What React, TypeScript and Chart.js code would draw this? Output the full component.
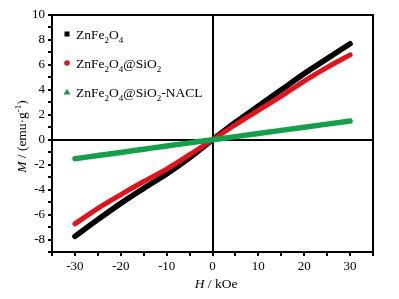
import React, { useEffect, useRef } from 'react';
import { Chart, registerables } from 'chart.js';

Chart.register(...registerables);

const fieldKOe = [-30, -25, -20, -15, -10, -5, 0, 5, 10, 15, 20, 25, 30];
const mZnFe2O4 = [-7.75, -6.4, -5.1, -3.9, -2.75, -1.45, 0, 1.4, 2.7, 4.0, 5.3, 6.5, 7.7];
const mZnFe2O4SiO2 = [-6.75, -5.5, -4.4, -3.35, -2.35, -1.2, 0, 1.2, 2.35, 3.5, 4.7, 5.8, 6.8];
const mZnFe2O4SiO2NACL = [-1.52, -1.27, -1.02, -0.76, -0.5, -0.25, 0, 0.25, 0.5, 0.75, 1.0, 1.25, 1.5];

const seriesNames = ['ZnFe_2O_4', 'ZnFe_2O_4@SiO_2', 'ZnFe_2O_4@SiO_2-NACL'];
const seriesColors = ['#000000', '#e3121d', '#14a04a'];
const seriesMarkers = ['rect', 'circle', 'triangle'];

const xLabelValues = [-30, -20, -10, 0, 10, 20, 30];
const yLabelValues = [-8, -6, -4, -2, 0, 2, 4, 6, 8, 10];

const FONT = '"Liberation Serif", "Times New Roman", serif';

type Seg = { t: string; sub?: boolean; sup?: boolean; italic?: boolean };

function parseSubs(s: string): Seg[] {
  const out: Seg[] = [];
  let buf = '';
  for (let i = 0; i < s.length; i++) {
    if (s[i] === '_' && i + 1 < s.length) {
      if (buf) out.push({ t: buf });
      buf = '';
      out.push({ t: s[i + 1], sub: true });
      i++;
    } else buf += s[i];
  }
  if (buf) out.push({ t: buf });
  return out;
}

function drawSegs(ctx: CanvasRenderingContext2D, segs: Seg[], x: number, y: number, size: number, align: 'left' | 'center') {
  const fontFor = (s: Seg) => `${s.italic ? 'italic ' : ''}${s.sub || s.sup ? Math.round(size * 0.68) : size}px ${FONT}`;
  let total = 0;
  for (const s of segs) {
    ctx.font = fontFor(s);
    total += ctx.measureText(s.t).width;
  }
  let cx = align === 'center' ? x - total / 2 : x;
  ctx.textAlign = 'left';
  ctx.textBaseline = 'alphabetic';
  for (const s of segs) {
    ctx.font = fontFor(s);
    const dy = s.sub ? size * 0.3 : s.sup ? -size * 0.4 : 0;
    ctx.fillText(s.t, cx, y + dy);
    cx += ctx.measureText(s.t).width;
  }
}

const decorPlugin = {
  id: 'decor',
  afterDraw(chart: any) {
    const ctx: CanvasRenderingContext2D = chart.ctx;
    const a = chart.chartArea;
    ctx.save();
    // frame
    ctx.strokeStyle = '#000';
    ctx.lineWidth = 2;
    ctx.strokeRect(a.left, a.top, a.right - a.left, a.bottom - a.top);

    // legend
    ctx.fillStyle = '#000';
    const lx = 67;
    const ly0 = 34;
    const gap = 29;
    seriesNames.forEach((name, i) => {
      const y = ly0 + i * gap;
      ctx.fillStyle = seriesColors[i];
      const m = seriesMarkers[i];
      if (m === 'rect') {
        ctx.fillRect(lx - 2.5, y - 2.5, 5, 5);
      } else if (m === 'circle') {
        ctx.beginPath();
        ctx.arc(lx, y, 2.8, 0, Math.PI * 2);
        ctx.fill();
      } else {
        ctx.beginPath();
        ctx.moveTo(lx, y - 3.2);
        ctx.lineTo(lx + 3.5, y + 2.6);
        ctx.lineTo(lx - 3.5, y + 2.6);
        ctx.closePath();
        ctx.fill();
      }
      ctx.fillStyle = '#000';
      drawSegs(ctx, parseSubs(name), 76, y + 4.5, 13.5, 'left');
    });

    // x title
    drawSegs(ctx, [{ t: 'H', italic: true }, { t: ' / kOe' }], 216, 288, 13.5, 'center');

    // y title
    ctx.save();
    ctx.translate(26, (a.top + a.bottom) / 2 + 3);
    ctx.rotate(-Math.PI / 2);
    drawSegs(ctx, [{ t: 'M', italic: true }, { t: ' / (emu·g' }, { t: '-1', sup: true }, { t: ')' }], 0, 0, 13.5, 'center');
    ctx.restore();

    ctx.restore();
  },
};

export default function App() {
  const ref = useRef<HTMLCanvasElement | null>(null);

  useEffect(() => {
    if (!ref.current) return;
    const mk = (vals: number[]) => fieldKOe.map((h, i) => ({ x: h, y: vals[i] }));
    const widths = [5.5, 5, 5.5];
    const chart = new Chart(ref.current, {
      type: 'line',
      data: {
        datasets: [mZnFe2O4, mZnFe2O4SiO2, mZnFe2O4SiO2NACL].map((vals, i) => ({
          label: seriesNames[i],
          data: mk(vals),
          borderColor: seriesColors[i],
          backgroundColor: seriesColors[i],
          borderWidth: widths[i],
          borderCapStyle: 'round' as const,
          borderJoinStyle: 'round' as const,
          pointRadius: 0,
          cubicInterpolationMode: 'monotone' as const,
          order: 2 - i,
        })),
      },
      options: {
        animation: false,
        responsive: false,
        maintainAspectRatio: false,
        layout: { padding: { top: 15, right: 26, left: 0, bottom: 0 } },
        plugins: { legend: { display: false }, tooltip: { enabled: false } },
        scales: {
          x: {
            type: 'linear',
            min: -35,
            max: 35,
            afterFit: (s: any) => { s.height = 47; },
            ticks: {
              stepSize: 5,
              autoSkip: false,
              maxRotation: 0,
              padding: 3,
              color: '#000',
              font: { family: FONT, size: 13 },
              callback: (v: any) => (xLabelValues.includes(Number(v)) ? String(v) : ''),
            },
            grid: {
              drawOnChartArea: true,
              color: (c: any) => (c.tick && c.tick.value === 0 ? '#000' : 'rgba(0,0,0,0)'),
              lineWidth: 2,
              tickColor: '#000',
              tickLength: 4,
              tickWidth: 2,
            },
            border: { display: true, color: '#000', width: 2 },
          },
          y: {
            type: 'linear',
            min: -9,
            max: 10,
            afterFit: (s: any) => { s.width = 52; },
            ticks: {
              stepSize: 1,
              autoSkip: false,
              padding: 3,
              color: '#000',
              font: { family: FONT, size: 13 },
              callback: (v: any) => (yLabelValues.includes(Number(v)) ? String(v) : ''),
            },
            grid: {
              drawOnChartArea: true,
              color: (c: any) => (c.tick && c.tick.value === 0 ? '#000' : 'rgba(0,0,0,0)'),
              lineWidth: 2,
              tickColor: '#000',
              tickLength: 4,
              tickWidth: 2,
            },
            border: { display: true, color: '#000', width: 2 },
          },
        },
      },
      plugins: [decorPlugin],
    });
    return () => chart.destroy();
  }, []);

  return (
    <div style={{ position: 'fixed', left: 0, top: 0, width: 399, height: 299, background: '#fff' }}>
      <canvas ref={ref} width={399} height={299} style={{ width: 399, height: 299, display: 'block' }} />
    </div>
  );
}
